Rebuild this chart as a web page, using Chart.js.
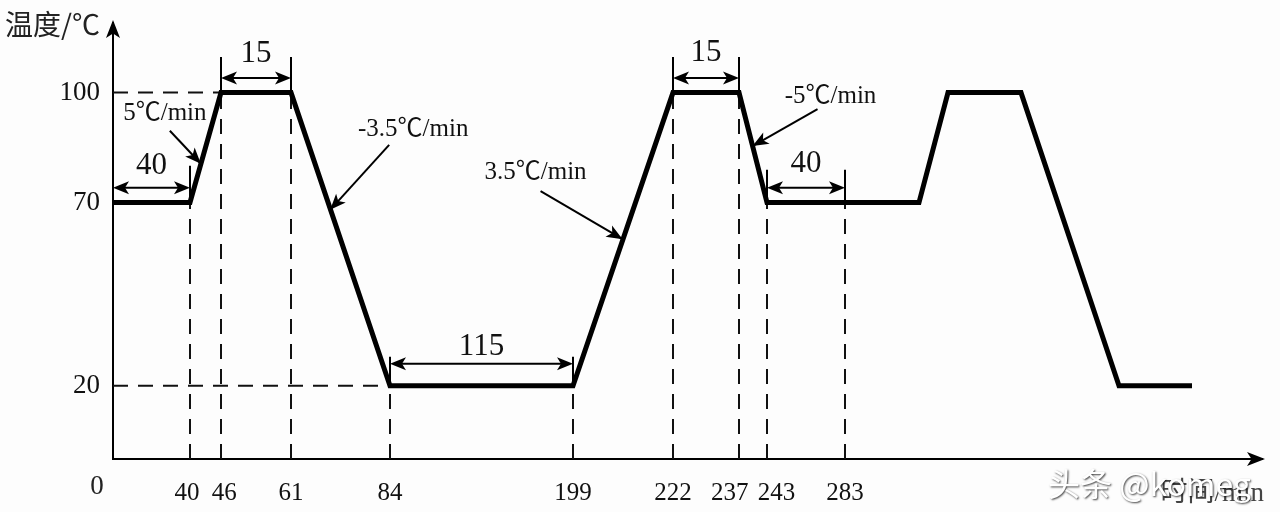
<!DOCTYPE html>
<html>
<head>
<meta charset="utf-8">
<script src="https://cdn.jsdelivr.net/npm/chart.js@4"></script>
<style>
  html, body { margin: 0; padding: 0; background: #fdfdfd; }
  canvas { display: block; }
</style>
</head>
<body>
<canvas id="profileChart" width="1280" height="512"></canvas>
<script>
// temperature profile (time in min, temperature in ℃)
const times = [0, 40, 46, 61, 84, 199, 222, 237, 243, 283, 323, 329, 344, 367, 405];
const temps = [70, 70, 100, 100, 20, 20, 100, 100, 70, 70, 70, 100, 100, 20, 20];

const xTickLabels = [40, 46, 61, 84, 199, 222, 237, 243, 283];
const yTickLabels = [20, 70, 100];

// dashed guides down to the time axis
const guideLevels = [70, 100, 100, 20, 20, 100, 100, 70, 70];
// dashed guides across from the temperature axis
const hGuideLevels = [100, 20];
const hGuideEnds = [46, 84];

// duration dimensions
const spanFrom = [0, 46, 84, 222, 243];
const spanTo = [40, 61, 199, 237, 283];
const spanLabels = ['40', '15', '115', '15', '40'];
const spanLevel = [74, 104, 26, 104, 74];

// slope callouts, pointing at the ramps
const slopeLabels = ['5℃/min', '-3.5℃/min', '3.5℃/min', '-5℃/min'];
const slopeTime = [42.1, 70.1, 210.4, 239.9];
const slopeTemp = [80.6, 68, 60, 85.4];

// the time axis is schematic, not to scale: stops map minutes to drawing units
class PiecewiseScale extends Chart.LinearScale {
    static id = 'piecewise';
    static defaults = Chart.LinearScale.defaults;

    warp(v) {
        const stops = this.options.stops;
        for (let i = 1; i < stops.length; i++) {
            if (v <= stops[i][0] || i === stops.length - 1) {
                const [t0, p0] = stops[i - 1];
                const [t1, p1] = stops[i];
                return p0 + (v - t0) * (p1 - p0) / (t1 - t0);
            }
        }
        return v;
    }

    getPixelForValue(v) {
        return super.getPixelForValue(this.warp(v));
    }
}
Chart.register(PiecewiseScale);

const serif = '"Liberation Serif", "Noto Sans CJK SC", serif';
const nb = '\u00a0';
// crowded labels are nudged apart, as in the drawing
const xLabelText = { 40: '40' + nb, 46: nb + '46', 237: '237' + nb + nb + nb, 243: nb + nb + nb + '243' };

const datasets = [{
    data: times.map((t, i) => ({ x: t, y: temps[i] })),
    borderColor: '#000',
    borderWidth: 5,
    borderJoinStyle: 'miter',
    pointRadius: 0,
    tension: 0
}];

xTickLabels.forEach((t, i) => {
    datasets.push({
        data: [{ x: t, y: 0 }, { x: t, y: guideLevels[i] }],
        borderColor: '#111',
        borderWidth: 2,
        borderDash: [15, 10],
        pointRadius: 0
    });
});
hGuideLevels.forEach((lv, i) => {
    datasets.push({
        data: [{ x: 0, y: lv }, { x: hGuideEnds[i], y: lv }],
        borderColor: '#111',
        borderWidth: 2,
        borderDash: [15, 10],
        pointRadius: 0
    });
});

function head(ctx, x, y, angle, len = 16, half = 6.5) {
    ctx.save();
    ctx.translate(x, y);
    ctx.rotate(angle);
    ctx.beginPath();
    ctx.moveTo(0, 0);
    ctx.lineTo(-len, -half);
    ctx.lineTo(-len * 0.75, 0);
    ctx.lineTo(-len, half);
    ctx.closePath();
    ctx.fill();
    ctx.restore();
}

const spanExt = [22, 21, 7, 21, 18];
const spanTextUp = [22, 24, 17, 25, 24];
const slopeTail = [[-31, -33], [59, -65], [-82, -48], [65, -37]];
const slopeText = [[-36, -50], [83, -80], [-87, -67], [78, -50]];

const annotations = {
    id: 'annotations',
    afterDatasetsDraw(chart) {
        const { ctx, scales: { x, y }, chartArea } = chart;
        ctx.save();
        ctx.fillStyle = '#000';
        ctx.strokeStyle = '#000';
        ctx.lineWidth = 2;

        // axis arrow heads
        head(ctx, chartArea.left, chartArea.top - 3, -Math.PI / 2, 18, 7);
        head(ctx, chartArea.right + 3, chartArea.bottom, 0, 18, 7);

        // durations
        spanFrom.forEach((f, i) => {
            const x1 = x.getPixelForValue(f);
            const x2 = x.getPixelForValue(spanTo[i]);
            const ya = y.getPixelForValue(spanLevel[i]);
            [f, spanTo[i]].forEach(t => {
                if (t === 0) return;
                const px = x.getPixelForValue(t);
                const lv = temps[times.indexOf(t)];
                ctx.beginPath();
                ctx.moveTo(px, y.getPixelForValue(lv));
                ctx.lineTo(px, ya - spanExt[i]);
                ctx.stroke();
            });
            ctx.beginPath();
            ctx.moveTo(x1 + 8, ya);
            ctx.lineTo(x2 - 8, ya);
            ctx.stroke();
            head(ctx, x1, ya, Math.PI);
            head(ctx, x2, ya, 0);
            ctx.font = '31px ' + serif;
            ctx.textAlign = 'center';
            ctx.textBaseline = 'middle';
            ctx.fillStyle = '#111';
            ctx.fillText(spanLabels[i], (x1 + x2) / 2, ya - spanTextUp[i]);
            ctx.fillStyle = '#000';
        });

        // slope callouts
        slopeLabels.forEach((lab, i) => {
            const tx = x.getPixelForValue(slopeTime[i]);
            const ty = y.getPixelForValue(slopeTemp[i]);
            const sx = tx + slopeTail[i][0];
            const sy = ty + slopeTail[i][1];
            ctx.beginPath();
            ctx.moveTo(sx, sy);
            ctx.lineTo(tx, ty);
            ctx.stroke();
            head(ctx, tx, ty, Math.atan2(ty - sy, tx - sx));
            ctx.font = '25px ' + serif;
            ctx.textAlign = 'center';
            ctx.textBaseline = 'middle';
            ctx.fillStyle = '#111';
            ctx.fillText(lab, tx + slopeText[i][0], ty + slopeText[i][1]);
            ctx.fillStyle = '#000';
        });

        // axis titles and origin
        ctx.fillStyle = '#222';
        ctx.textBaseline = 'middle';
        ctx.textAlign = 'left';
        ctx.font = '28px "Noto Sans CJK SC", sans-serif';
        ctx.fillText('温度/℃', 5, 24);
        ctx.textAlign = 'center';
        ctx.font = '27px ' + serif;
        ctx.fillText('0', 97, 487);
        ctx.textAlign = 'right';
        ctx.fillStyle = '#444';
        ctx.fillText('时间/min', 1264, 494);

        // watermark
        ctx.textAlign = 'left';
        ctx.font = '32px "Noto Sans CJK SC", sans-serif';
        ctx.shadowColor = 'rgba(0,0,0,0.75)';
        ctx.shadowBlur = 2;
        ctx.shadowOffsetX = 1;
        ctx.shadowOffsetY = 1;
        ctx.fillStyle = '#fff';
        ctx.fillText('头条 @komeg', 1048, 484);
        ctx.restore();
    }
};

new Chart(document.getElementById('profileChart'), {
    type: 'line',
    data: { datasets },
    options: {
        responsive: false,
        animation: false,
        devicePixelRatio: 1,
        layout: { padding: { top: 23, right: 18, left: 0, bottom: 0 } },
        plugins: { legend: { display: false }, tooltip: { enabled: false } },
        scales: {
            x: {
                type: 'piecewise',
                stops: [[0, 0], [40, 77], [46, 108], [61, 178], [84, 277], [199, 460],
                        [222, 560], [237, 626], [243, 654], [283, 732], [323, 806],
                        [329, 835], [344, 908], [367, 1006], [405, 1079]],
                min: 0,
                max: 1149,
                bounds: 'data',
                grid: { display: false, drawTicks: false },
                border: { display: true, color: '#000', width: 2 },
                ticks: {
                    color: '#111',
                    font: { family: serif, size: 25 },
                    padding: 19,
                    maxRotation: 0,
                    autoSkip: false,
                    callback: v => xLabelText[v] || String(v)
                },
                afterBuildTicks: s => { s.ticks = xTickLabels.map(v => ({ value: v })); },
                afterFit: s => { s.height = 53; s.paddingLeft = 0; s.paddingRight = 0; }
            },
            y: {
                min: 0,
                max: 119,
                grid: { display: false, drawTicks: false },
                border: { display: true, color: '#000', width: 2 },
                ticks: {
                    color: '#111',
                    font: { family: serif, size: 27 },
                    padding: 13
                },
                afterBuildTicks: s => { s.ticks = yTickLabels.map(v => ({ value: v })); },
                afterFit: s => { s.width = 113; s.paddingTop = 0; s.paddingBottom = 0; }
            }
        }
    },
    plugins: [annotations]
});
</script>
</body>
</html>
